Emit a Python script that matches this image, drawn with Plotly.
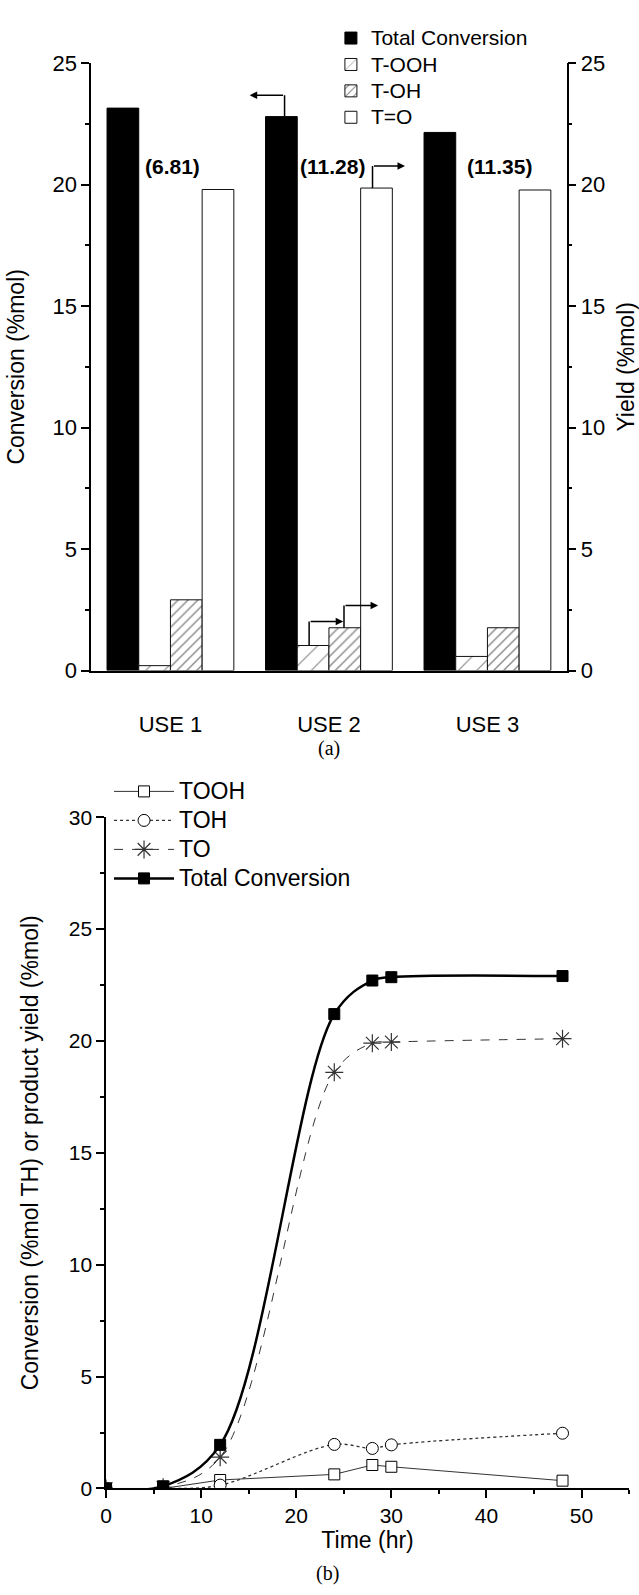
import plotly.graph_objects as go

# ---------------- data : panel (a) ----------------
uses = ["USE 1", "USE 2", "USE 3"]
total_conv = [23.15, 22.8, 22.15]
t_ooh = [0.2, 1.03, 0.58]
t_oh = [2.91, 1.76, 1.76]
t_o = [19.8, 19.86, 19.78]
ratio_labels = ["(6.81)", "(11.28)", "(11.35)"]

# ---------------- data : panel (b) ----------------
time_hr = [0, 6, 12, 24, 28, 30, 48]
tooh = [0.0, 0.0, 0.38, 0.63, 1.05, 0.97, 0.35]
toh = [0.0, 0.0, 0.15, 1.97, 1.79, 1.95, 2.47]
to = [0.0, 0.05, 1.4, 18.6, 19.9, 19.95, 20.1]
total = [0.0, 0.1, 1.95, 21.2, 22.7, 22.85, 22.9]

FONT = "Liberation Sans, Arial, sans-serif"
SERIF = "Liberation Serif, Times New Roman, serif"
W, H = 639, 1595

cat_x = list(range(len(uses)))
BW = 0.2  # bar width in category units (bargap 0.2, 4 bars)


def bar_center(i, k):
    return i + (k - 1.5) * BW


def big(txt, size):
    return '<span style="font-size:%dpx">%s</span>' % (size, txt)


fig = go.Figure()

fig.add_trace(go.Bar(x=cat_x, y=total_conv, name=big("Total Conversion", 21),
                     marker=dict(color="black", line=dict(color="black", width=1))))
fig.add_trace(go.Bar(x=cat_x, y=t_ooh, name=big("T-OOH", 21),
                     marker=dict(color="white", line=dict(color="#111", width=1),
                                 pattern=dict(shape="/", fgcolor="#111", bgcolor="white",
                                              size=13, solidity=0.09))))
fig.add_trace(go.Bar(x=cat_x, y=t_oh, name=big("T-OH", 21),
                     marker=dict(color="white", line=dict(color="#111", width=1),
                                 pattern=dict(shape="/", fgcolor="#111", bgcolor="white",
                                              size=7, solidity=0.2))))
fig.add_trace(go.Bar(x=cat_x, y=t_o, name=big("T=O", 21),
                     marker=dict(color="white", line=dict(color="#111", width=1))))
# right-hand axis carrier
fig.add_trace(go.Scatter(x=[], y=[], yaxis="y2", showlegend=False, hoverinfo="skip"))

# ---------------- panel (b) traces ----------------
fig.add_trace(go.Scatter(x=time_hr, y=tooh, name=big("TOOH", 23), mode="lines+markers",
                         xaxis="x3", yaxis="y3", legend="legend2",
                         line=dict(color="#333", width=1),
                         marker=dict(symbol="square", size=11, color="white",
                                     line=dict(color="black", width=1))))
fig.add_trace(go.Scatter(x=time_hr, y=toh, name=big("TOH", 23), mode="lines+markers",
                         xaxis="x3", yaxis="y3", legend="legend2",
                         line=dict(color="#333", width=1.3, dash="dot", shape="spline"),
                         marker=dict(symbol="circle", size=12, color="white",
                                     line=dict(color="black", width=1))))
fig.add_trace(go.Scatter(x=time_hr, y=to, name=big("TO", 23), mode="lines+markers",
                         xaxis="x3", yaxis="y3", legend="legend2",
                         line=dict(color="#333", width=1, dash="dash", shape="spline", smoothing=1),
                         marker=dict(symbol="asterisk-open", size=15,
                                     line=dict(color="black", width=1.2))))
fig.add_trace(go.Scatter(x=time_hr, y=total, name=big("Total Conversion", 23), mode="lines+markers",
                         xaxis="x3", yaxis="y3", legend="legend2",
                         line=dict(color="black", width=2.5, shape="spline", smoothing=1),
                         marker=dict(symbol="square", size=11, color="black",
                                     line=dict(color="black", width=1))))

# ---------------- arrows in panel (a) ----------------
arrows = [
    # (x of vertical stem, bar top, corner y, head x)
    (bar_center(1, 0) + 0.02, total_conv[1], 23.68, 0.5),
    (bar_center(1, 3) - 0.025, t_o[1], 20.77, 1.48),
    (bar_center(1, 1) - 0.025, t_ooh[1], 2.02, 1.09),
    (bar_center(1, 2) - 0.005, t_oh[1], 2.68, 1.31),
]
shapes = []
annotations = []
for xs, ytop, yc, xh in arrows:
    shapes.append(dict(type="line", xref="x", yref="y", x0=xs, x1=xs, y0=ytop, y1=yc,
                       line=dict(color="black", width=1.5)))
    annotations.append(dict(x=xh, y=yc, ax=xs, ay=yc, xref="x", yref="y", axref="x", ayref="y",
                            text="", showarrow=True, arrowhead=2, arrowsize=1, arrowwidth=1.5,
                            arrowcolor="black", standoff=0, startstandoff=0))

label_offsets = [0.012, 0.022, 0.075]
for i, lab in enumerate(ratio_labels):
    annotations.append(dict(x=cat_x[i] + label_offsets[i], y=20.75, xref="x", yref="y",
                            text="<b>%s</b>" % lab, showarrow=False,
                            font=dict(family=FONT, size=21, color="black")))

annotations.append(dict(x=326 / W, y=1 - 748 / H, xref="paper", yref="paper", text="(a)",
                        showarrow=False, yanchor="middle", xanchor="center",
                        font=dict(family=SERIF, size=20, color="black")))
annotations.append(dict(x=325 / W, y=1 - 1586 / H, xref="paper", yref="paper", text="(b)",
                        showarrow=False, yanchor="middle", xanchor="center",
                        font=dict(family=SERIF, size=20, color="black")))

TITLE_FONT = dict(family=FONT, size=23, color="black")


def axis_style(tick_size):
    return dict(showline=True, linecolor="black", linewidth=1.5, showgrid=False,
                zeroline=False, ticks="outside", tickcolor="black", tickwidth=1.5,
                tickfont=dict(family=FONT, size=tick_size, color="black"))


fig.update_layout(
    width=W, height=H,
    margin=dict(l=0, r=0, t=0, b=0),
    paper_bgcolor="white", plot_bgcolor="white",
    font=dict(family=FONT, size=20, color="black"),
    barmode="group", bargap=0.2, bargroupgap=0,
    xaxis=dict(domain=[86 / W, 566 / W], anchor="y", range=[-0.5, 2.5],
               tickvals=cat_x, ticktext=uses, showline=True, linecolor="black", linewidth=1.5,
               ticks="outside", ticklen=33, tickcolor="rgba(0,0,0,0)", showgrid=False,
               zeroline=False, tickfont=dict(family=FONT, size=22, color="black")),
    yaxis=dict(domain=[1 - 669 / H, 1 - 52 / H], anchor="x", range=[0, 25], dtick=5, ticklen=8,
               minor=dict(dtick=2.5, ticks="outside", ticklen=4, tickcolor="black"),
               title=dict(text="Conversion (%mol)", standoff=22, font=TITLE_FONT),
               **axis_style(22)),
    yaxis2=dict(overlaying="y", side="right", anchor="x", range=[0, 25], dtick=5, ticklen=8,
                minor=dict(dtick=2.5, ticks="outside", ticklen=4, tickcolor="black"),
                title=dict(text="Yield (%mol)", standoff=15, font=TITLE_FONT),
                **axis_style(22)),
    xaxis3=dict(domain=[101 / W, 629 / W], anchor="y3", range=[0, 55], dtick=10, ticklen=8,
                minor=dict(dtick=5, ticks="outside", ticklen=4, tickcolor="black"),
                title=dict(text="Time (hr)", standoff=3, font=TITLE_FONT),
                **axis_style(21)),
    yaxis3=dict(domain=[1 - 1500 / H, 1 - 818 / H], anchor="x3", range=[0, 30], dtick=5, ticklen=8,
                minor=dict(dtick=2.5, ticks="outside", ticklen=4, tickcolor="black"),
                title=dict(text="Conversion (%mol TH) or product yield (%mol)", standoff=24,
                           font=TITLE_FONT),
                **axis_style(21)),
    legend=dict(x=328 / W, y=1 - 8 / H, xanchor="left", yanchor="top",
                bgcolor="rgba(0,0,0,0)", font=dict(family=FONT, size=18, color="black"),
                traceorder="normal"),
    legend2=dict(x=104 / W, y=1 - 772 / H, xanchor="left", yanchor="top", itemwidth=60,
                 bgcolor="rgba(0,0,0,0)", font=dict(family=FONT, size=20, color="black"),
                 traceorder="normal"),
    shapes=shapes,
    annotations=annotations,
)

fig.write_html("out.html")
